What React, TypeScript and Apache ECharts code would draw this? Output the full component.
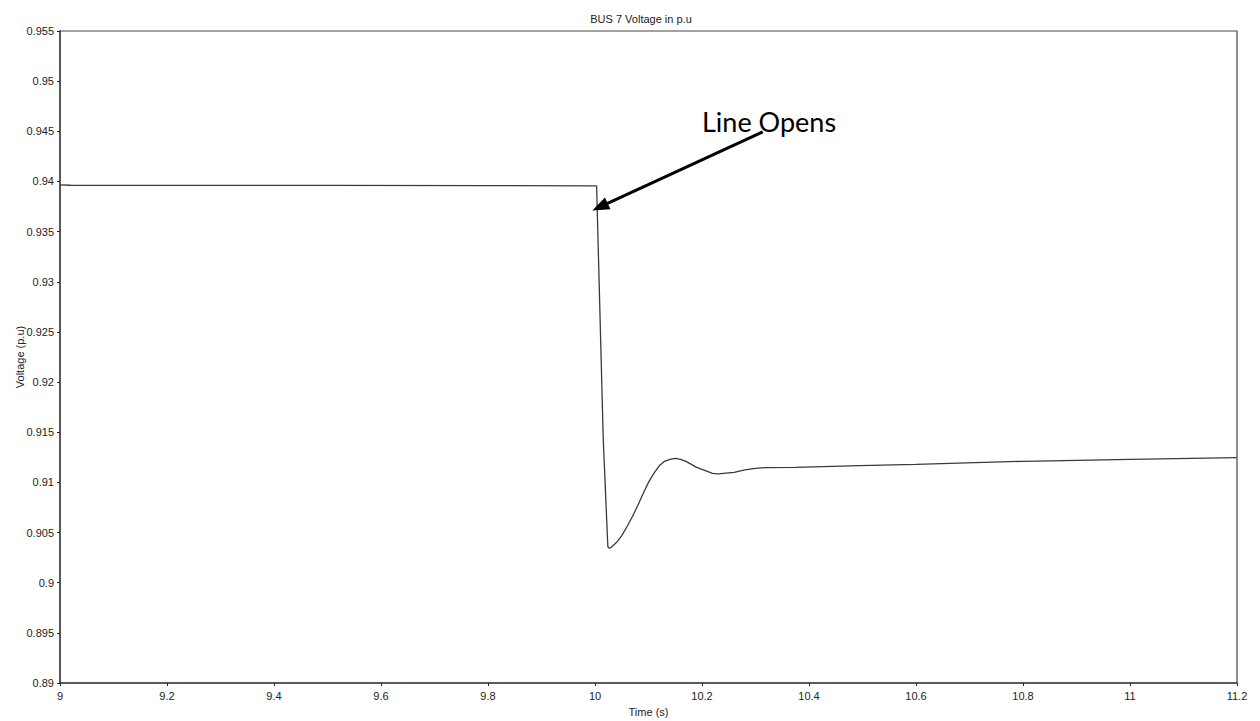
import React, { useEffect, useRef } from "react";
import * as echarts from "echarts";

const timeS = [9.0, 9.02, 9.5, 9.8, 10.0, 10.003, 10.0155, 10.024, 10.0262, 10.03, 10.04, 10.05, 10.06, 10.07, 10.08, 10.09, 10.1, 10.11, 10.12, 10.13, 10.14, 10.15, 10.16, 10.17, 10.18, 10.19, 10.2, 10.21, 10.22, 10.23, 10.24, 10.26, 10.28, 10.3, 10.32, 10.374, 10.495, 10.6, 10.8, 11.0, 11.2];
const voltagePu = [0.93966, 0.93962, 0.9396, 0.93958, 0.93956, 0.93955, 0.9142, 0.9036, 0.90345, 0.9035, 0.904, 0.9047, 0.9056, 0.9066, 0.9077, 0.9089, 0.91, 0.9109, 0.91165, 0.9121, 0.9123, 0.9124, 0.9123, 0.9121, 0.9118, 0.9115, 0.9113, 0.9111, 0.9109, 0.91085, 0.9109, 0.911, 0.91124, 0.9114, 0.91148, 0.9115, 0.91167, 0.9118, 0.9121, 0.9123, 0.91247];

const titleText = "BUS 7 Voltage in p.u";
const xName = "Time (s)";
const yName = "Voltage (p.u)";
const annotationText = "Line Opens";
const annotationLabelAt = [10.2, 0.94601];
const arrowFrom = [10.3135, 0.94494];
const arrowTo = [10.0093, 0.93747];

export default function App() {
  const ref = useRef<HTMLDivElement>(null);
  useEffect(() => {
    const chart = echarts.init(ref.current!, null, { renderer: "svg" });
    const axisFont = { fontFamily: "Liberation Sans, Arial, sans-serif", fontSize: 11, color: "#222" };
    chart.setOption({
      animation: false,
      backgroundColor: "#fff",
      title: {
        text: titleText,
        left: 636,
        top: 8,
        textAlign: "center",
        textStyle: { fontFamily: "Liberation Sans, Arial, sans-serif", fontSize: 11, fontWeight: "normal", color: "#222" },
      },
      grid: {
        left: 60,
        top: 31,
        right: 23,
        bottom: 38,
        containLabel: false,
        outerBoundsMode: "none",
        show: true,
        borderColor: "#444",
        borderWidth: 1.2,
        backgroundColor: "#fff",
      },
      xAxis: {
        type: "value",
        min: 9,
        max: 11.2,
        interval: 0.2,
        name: xName,
        nameLocation: "middle",
        nameGap: 23,
        nameMoveOverlap: false,
        nameTextStyle: axisFont,
        axisLine: { show: true, lineStyle: { color: "#444", width: 1.5 } },
        axisTick: { show: true, length: 3, lineStyle: { color: "#222" } },
        axisLabel: { ...axisFont, margin: 7, formatter: (v: number) => String(+v.toFixed(1)) },
        splitLine: { show: false },
      },
      yAxis: {
        type: "value",
        min: 0.89,
        max: 0.955,
        interval: 0.005,
        name: yName,
        nameLocation: "middle",
        nameGap: 35,
        nameMoveOverlap: false,
        nameTextStyle: axisFont,
        axisLine: { show: true, lineStyle: { color: "#444", width: 1.5 } },
        axisTick: { show: true, length: 3, lineStyle: { color: "#222" } },
        axisLabel: { ...axisFont, margin: 6, formatter: (v: number) => String(+v.toFixed(3)) },
        splitLine: { show: false },
      },
      series: [
        {
          type: "line",
          data: timeS.map((t, i) => [t, voltagePu[i]]),
          showSymbol: false,
          symbol: "none",
          smooth: false,
          lineStyle: { color: "#3a3a3a", width: 1.3 },
          markLine: {
            silent: true,
            symbol: ["none", "triangle"],
            symbolSize: [13, 17],
            label: { show: false },
            lineStyle: { color: "#000", width: 3, type: "solid" },
            data: [[{ coord: arrowFrom }, { coord: arrowTo }]],
          },
          markPoint: {
            silent: true,
            symbol: "circle",
            symbolSize: 0,
            data: [{ coord: annotationLabelAt }],
            label: {
              show: true,
              position: "right",
              distance: 0,
              formatter: annotationText,
              fontFamily: "Lato, sans-serif",
              fontSize: 27,
              color: "#000",
            },
          },
        },
      ],
    });
    return () => chart.dispose();
  }, []);
  return <div ref={ref} style={{ position: "fixed", left: 0, top: 0, width: 1260, height: 721 }} />;
}
